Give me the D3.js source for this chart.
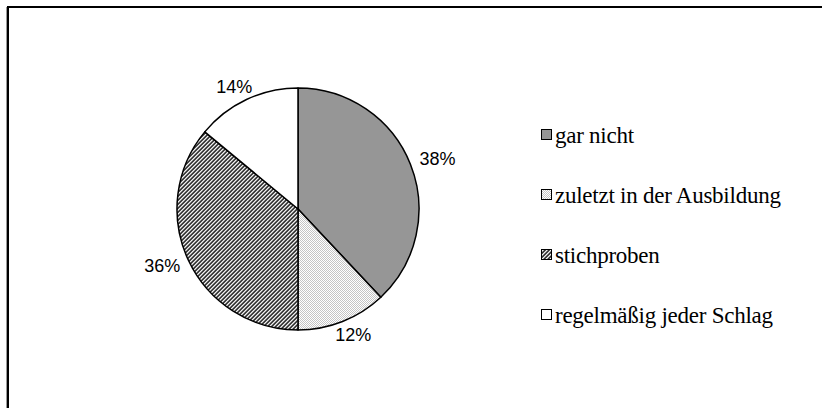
<!DOCTYPE html>
<html>
<head>
<meta charset="utf-8">
<script src="https://cdn.jsdelivr.net/npm/d3@7"></script>
<style>
  html, body { margin: 0; padding: 0; background: #fff; }
  svg { display: block; }
</style>
</head>
<body>
<svg id="chart" width="822" height="408"></svg>
<script>
// Answer categories and their shares (percent)
const categories = ["gar nicht", "zuletzt in der Ausbildung", "stichproben", "regelmäßig jeder Schlag"];
const values = [38, 12, 36, 14];
const labels = ["38%", "12%", "36%", "14%"];
const fills = ["#969696", "url(#dots)", "url(#hatch)", "#ffffff"];

const svg = d3.select("#chart");
const W = 822, H = 408;

// Fill patterns
const defs = svg.append("defs");
const dots = defs.append("pattern").attr("id", "dots")
  .attr("patternUnits", "userSpaceOnUse").attr("width", 2).attr("height", 2);
dots.append("rect").attr("width", 2).attr("height", 2).attr("fill", "#ffffff");
dots.append("rect").attr("x", 1).attr("y", 0).attr("width", 1).attr("height", 1).attr("fill", "#c4c4c4");
dots.append("rect").attr("x", 0).attr("y", 1).attr("width", 1).attr("height", 1).attr("fill", "#c4c4c4");

const hatch = defs.append("pattern").attr("id", "hatch")
  .attr("patternUnits", "userSpaceOnUse").attr("width", 4).attr("height", 4);
hatch.append("rect").attr("width", 4).attr("height", 4).attr("fill", "#ffffff");
const hatchShade = ["#f0f0f0", "#a0a0a0", "#303030", "#585858"];
for (let x = 0; x < 4; x++) {
  for (let y = 0; y < 4; y++) {
    hatch.append("rect").attr("x", x).attr("y", y).attr("width", 1).attr("height", 1)
      .attr("fill", hatchShade[(x + y) % 4]);
  }
}

// Outer frame
svg.append("rect")
  .attr("x", 8).attr("y", 7).attr("width", W + 20).attr("height", H + 20)
  .attr("fill", "none").attr("stroke", "#000").attr("stroke-width", 2);
svg.append("line").attr("x1", 6.5).attr("x2", 6.5).attr("y1", 7).attr("y2", H)
  .attr("stroke", "#9a9a9a").attr("stroke-width", 1);

// Pie
const cx = 298, cy = 209, r = 121;
const pie = d3.pie().sort(null).value(d => d)(values);
const arc = d3.arc().innerRadius(0).outerRadius(r);
const g = svg.append("g").attr("transform", `translate(${cx},${cy})`);

g.selectAll("path.slice").data(pie).join("path")
  .attr("class", "slice")
  .attr("d", arc)
  .attr("fill", (d, i) => fills[i])
  .attr("stroke", "#000")
  .attr("stroke-width", 1.5)
  .attr("stroke-linejoin", "round");

// Percentage labels outside each slice
const rx = 150, ry = 135;
g.selectAll("text.pct").data(pie).join("text")
  .attr("class", "pct")
  .attr("x", d => Math.sin((d.startAngle + d.endAngle) / 2) * rx)
  .attr("y", d => -Math.cos((d.startAngle + d.endAngle) / 2) * ry)
  .attr("text-anchor", "middle")
  .attr("dominant-baseline", "central")
  .attr("font-family", "'Liberation Sans', Arial, sans-serif")
  .attr("font-size", 18)
  .attr("fill", "#000")
  .text((d, i) => labels[i]);

// Legend
const legendY = d3.scalePoint().domain(categories).range([135, 315]);
const lg = svg.append("g");
const items = lg.selectAll("g.item").data(categories).join("g")
  .attr("class", "item")
  .attr("transform", d => `translate(541,${legendY(d)})`);
items.append("rect")
  .attr("x", 0.5).attr("y", -5.5).attr("width", 10).attr("height", 10)
  .attr("fill", (d, i) => fills[i])
  .attr("stroke", "#000").attr("stroke-width", 1);
items.append("text")
  .attr("x", 14).attr("y", 0)
  .attr("dominant-baseline", "central")
  .attr("font-family", "'Liberation Serif', 'Times New Roman', serif")
  .attr("font-size", 23)
  .attr("letter-spacing", -0.25)
  .attr("fill", "#000")
  .text(d => d);
</script>
</body>
</html>
